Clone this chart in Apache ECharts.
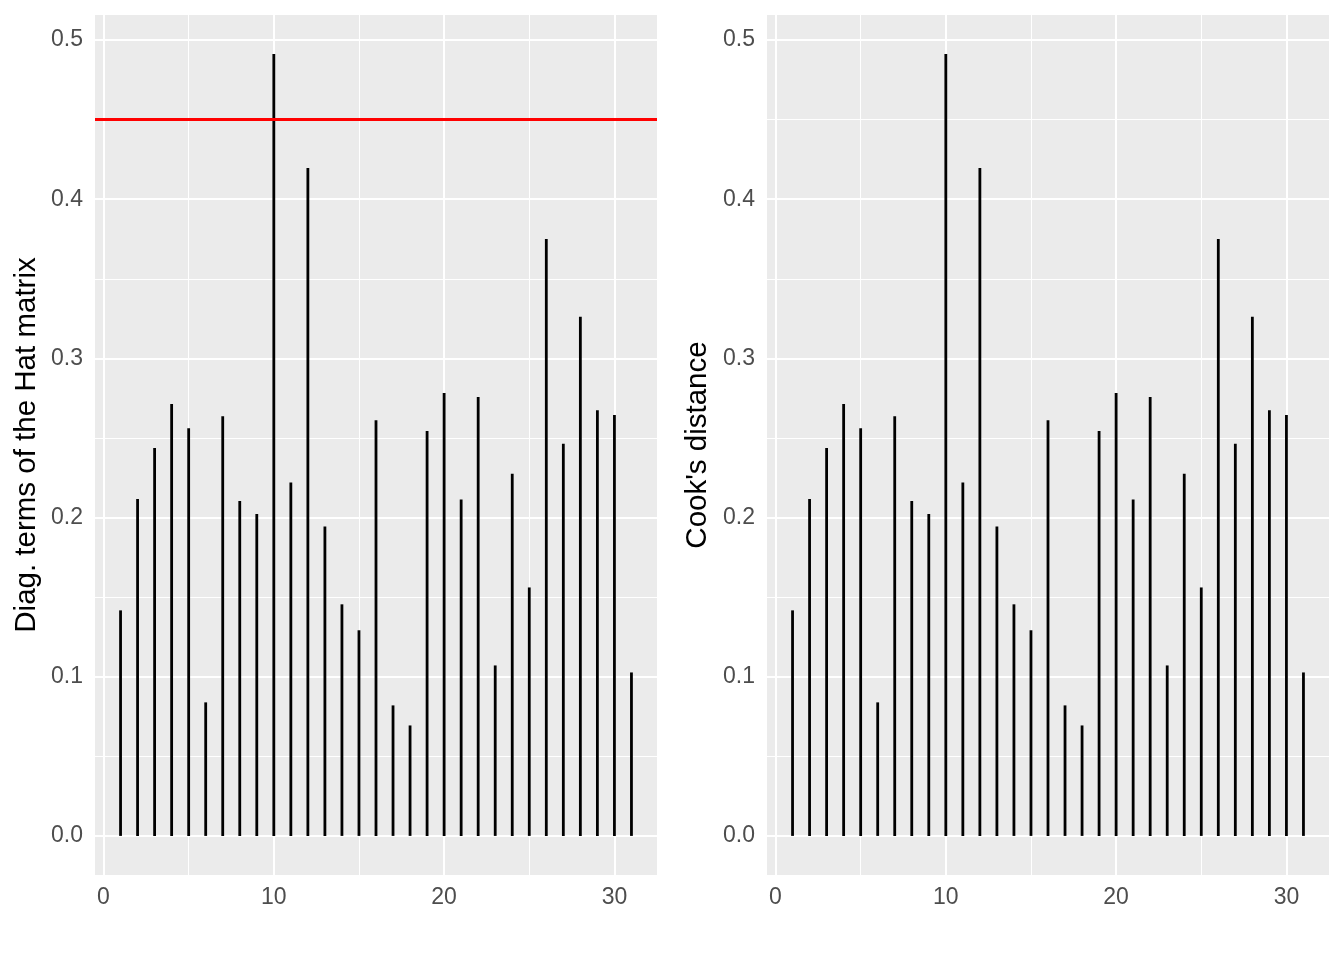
<!DOCTYPE html>
<html>
<head>
<meta charset="utf-8">
<script src="https://cdn.jsdelivr.net/npm/echarts@6/dist/echarts.min.js"></script>
<style>
html,body{margin:0;padding:0;background:#fff;}
#chart{width:1344px;height:960px;}
</style>
</head>
<body>
<div id="chart"></div>
<script>
// ---- data ----
const obsIndex = [1,2,3,4,5,6,7,8,9,10,11,12,13,14,15,16,17,18,19,20,21,22,23,24,25,26,27,28,29,30,31];
const hatValues = [0.1417,0.2117,0.2437,0.2713,0.2562,0.0839,0.2637,0.2104,0.2023,0.4912,
                   0.2220,0.4197,0.1944,0.1455,0.1292,0.2612,0.0820,0.0694,0.2544,0.2782,
                   0.2113,0.2757,0.1071,0.2276,0.1561,0.3751,0.2464,0.3262,0.2675,0.2644,0.1027];
const cookValues = [0.1417,0.2117,0.2437,0.2713,0.2562,0.0839,0.2637,0.2104,0.2023,0.4912,
                    0.2220,0.4197,0.1944,0.1455,0.1292,0.2612,0.0820,0.0694,0.2544,0.2782,
                    0.2113,0.2757,0.1071,0.2276,0.1561,0.3751,0.2464,0.3262,0.2675,0.2644,0.1027];
const hatThreshold = 0.4516; // 2p/n
const xTicks = [0,10,20,30];
const xMinorTicks = [5,15,25];
const yTicks = [0,0.1,0.2,0.3,0.4,0.5];
const yMinorTicks = [0.05,0.15,0.25,0.35,0.45];
const yTitles = ["Diag. terms of the Hat matrix", "Cook's distance"];

// ---- build ----
const FONT = "'Liberation Sans', Arial, Helvetica, sans-serif";
const xMin = Math.min(...obsIndex), xMax = Math.max(...obsIndex);
const xPad = (xMax - xMin) * 0.05;

function yRange(vals){
  const lo = Math.min(0, ...vals), hi = Math.max(...vals);
  const pad = (hi - lo) * 0.05;
  return [lo - pad, hi + pad];
}

const chart = echarts.init(document.getElementById('chart'), null, {renderer:'canvas'});
const grids = [], xAxes = [], yAxes = [], series = [];
const panels = [hatValues, cookValues];
const gridLefts = [95, 767];
const nameGaps = [53, 54];

panels.forEach((vals, i) => {
  grids.push({left: gridLefts[i], width: 562, top: 15, height: 860, show: true,
    backgroundColor: '#EBEBEB', borderWidth: 0});
  xAxes.push({type: 'value', gridIndex: i, min: xMin - xPad, max: xMax + xPad,
    axisLine: {show: false},
    axisTick: {show: true, customValues: xTicks, length: 7, lineStyle: {color: '#333333', width: 2}},
    axisLabel: {show: true, customValues: xTicks, color: '#4D4D4D', fontSize: 23, fontFamily: FONT, margin: 11},
    splitLine: {show: false}});
  const yr = yRange(vals);
  yAxes.push({type: 'value', gridIndex: i, min: yr[0], max: yr[1],
    name: yTitles[i], nameLocation: 'middle', nameGap: nameGaps[i],
    nameTextStyle: {color: '#000', fontSize: 29.5, fontFamily: FONT},
    axisLine: {show: false},
    axisTick: {show: true, customValues: yTicks, length: 7, lineStyle: {color: '#333333', width: 2}},
    axisLabel: {show: true, customValues: yTicks, color: '#4D4D4D', fontSize: 23, fontFamily: FONT, margin: 12,
      padding: [3, 0, 0, 0], formatter: v => v.toFixed(1)},
    splitLine: {show: false}});

  // grid lines (minor then major)
  const mk = (arr, key, w) => arr.map(v => ({[key]: v, lineStyle: {color: '#FFFFFF', width: w, type: 'solid'}}));
  series.push({type: 'line', xAxisIndex: i, yAxisIndex: i, data: [], silent: true, z: 1,
    markLine: {silent: true, symbol: ['none','none'], animation: false, z: 1,
      label: {show: false}, emphasis: {disabled: true},
      data: [].concat(mk(xMinorTicks,'xAxis',1), mk(yMinorTicks,'yAxis',1),
                      mk(xTicks,'xAxis',2), mk(yTicks,'yAxis',2))}});

  series.push({type: 'custom', xAxisIndex: i, yAxisIndex: i, z: 3, animation: false,
    data: obsIndex.map((x, k) => [x, vals[k]]),
    encode: {x: 0, y: 1},
    renderItem: (params, api) => {
      const x = api.value(0), y = api.value(1);
      const p0 = api.coord([x, 0]), p1 = api.coord([x, y]);
      return {type: 'line', shape: {x1: p0[0], y1: p0[1], x2: p1[0], y2: p1[1]},
        style: {stroke: '#000000', lineWidth: 2.8, lineCap: 'butt'}};
    }});
});

// threshold line on hat panel
series.push({type: 'line', xAxisIndex: 0, yAxisIndex: 0, data: [], silent: true, z: 5,
  markLine: {silent: true, symbol: ['none','none'], animation: false, z: 6,
    label: {show: false}, emphasis: {disabled: true},
    data: [{yAxis: hatThreshold, lineStyle: {color: '#FF0000', width: 3, type: 'solid'}}]}});

chart.setOption({
  animation: false,
  backgroundColor: '#FFFFFF',
  grid: grids, xAxis: xAxes, yAxis: yAxes, series: series
});
</script>
</body>
</html>
